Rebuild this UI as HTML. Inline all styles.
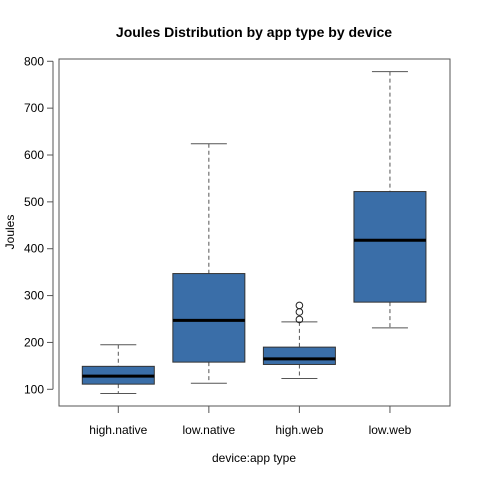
<!DOCTYPE html>
<html><head><meta charset="utf-8"><style>
html,body{margin:0;padding:0;background:#fff}
svg text{font-family:"Liberation Sans",Arial,sans-serif}
</style></head><body>
<svg id="chart" width="480" height="480" xmlns="http://www.w3.org/2000/svg">
<rect width="480" height="480" fill="#fff"/>
<text x="254" y="37" text-anchor="middle" font-size="14" font-weight="bold">Joules Distribution by app type by device</text>
<text x="254" y="462" text-anchor="middle" font-size="12">device:app type</text>
<text transform="translate(14,232) rotate(-90)" text-anchor="middle" font-size="12">Joules</text>
<rect x="59" y="59" width="391" height="347" fill="none" stroke="#555" stroke-width="1"/>
<g id="axes"></g>
<g id="boxes"></g>
</svg>
<script>
const categories=["high.native","low.native","high.web","low.web"];
const whiskerLow=[91,113,123,231];
const q1=[111,158,153,286];
const medians=[128,247,165,418];
const q3=[149,347,190,522];
const whiskerHigh=[195,624,244,778];
const outliersCat=[2,2,2];
const outliersVal=[249,265,279];
const yTicks=[100,200,300,400,500,600,700,800];

const NS="http://www.w3.org/2000/svg";
function y(v){return 389.3-(v-100)*0.4686;}
function x(i){return 118.3+i*90.55;}
function mk(tag,attrs,parent){const e=document.createElementNS(NS,tag);for(const k in attrs)e.setAttribute(k,attrs[k]);parent.appendChild(e);return e;}
const axes=document.getElementById('axes');
const boxes=document.getElementById('boxes');
mk('line',{x1:53,x2:53,y1:y(yTicks[0]),y2:y(yTicks[yTicks.length-1]),stroke:'#555'},axes);
yTicks.forEach(t=>{
  const l=mk('line',{x1:47,x2:53,y1:y(t),y2:y(t),stroke:'#555'},axes);
  
  
  const tx=mk('text',{x:44,y:y(t)+4,'text-anchor':'end','font-size':12},axes);
  tx.textContent=t;
  
  
});
categories.forEach((c,i)=>{
  mk('line',{x1:x(i),x2:x(i),y1:406,y2:413,stroke:'#555'},axes);
  const tx=mk('text',{x:x(i),y:434,'text-anchor':'middle','font-size':12},axes);
  tx.textContent=c;
  
  
  const g=mk('g',{},boxes);
  
  
  const cx=x(i),hw=36,cw=18;
  mk('line',{x1:cx,x2:cx,y1:y(whiskerHigh[i]),y2:y(q3[i]),stroke:'#555','stroke-dasharray':'4,3'},g);
  mk('line',{x1:cx,x2:cx,y1:y(q1[i]),y2:y(whiskerLow[i]),stroke:'#555','stroke-dasharray':'4,3'},g);
  mk('line',{x1:cx-cw,x2:cx+cw,y1:y(whiskerHigh[i]),y2:y(whiskerHigh[i]),stroke:'#555'},g);
  mk('line',{x1:cx-cw,x2:cx+cw,y1:y(whiskerLow[i]),y2:y(whiskerLow[i]),stroke:'#555'},g);
  mk('rect',{x:cx-hw,y:y(q3[i]),width:2*hw,height:y(q1[i])-y(q3[i]),fill:'#3a6ea8',stroke:'#333'},g);
  mk('line',{x1:cx-hw,x2:cx+hw,y1:y(medians[i]),y2:y(medians[i]),stroke:'#000','stroke-width':3},g);
});
outliersVal.forEach((v,k)=>{
  const c=mk('circle',{cx:x(outliersCat[k]),cy:y(v),r:3.3,fill:'none',stroke:'#222'},boxes);
  
  
});
</script>
</body></html>
